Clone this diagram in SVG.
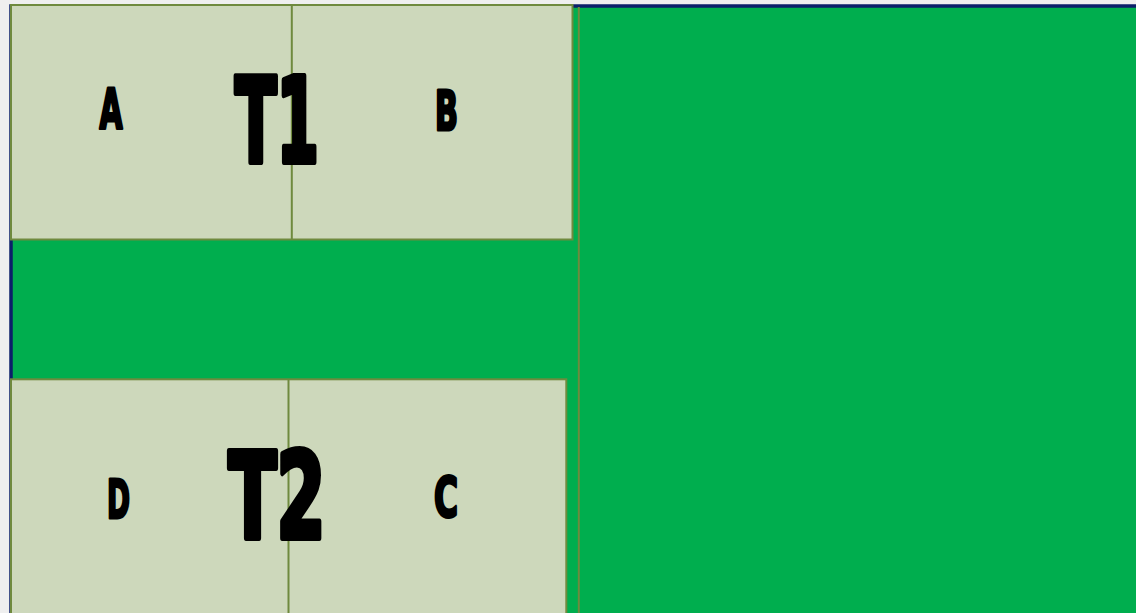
<svg xmlns="http://www.w3.org/2000/svg" width="1136" height="613" viewBox="0 0 1136 613">
<style>
.panel{fill:#cdd8bb;stroke:#6f8a3e;stroke-width:2}
.div{stroke:#6f8a3e;stroke-width:2}
.big{font-family:"Liberation Sans Narrow","DejaVu Sans Condensed","Liberation Sans",sans-serif;font-weight:bold;fill:#000;stroke:#000;stroke-width:6;stroke-linejoin:round;text-anchor:middle}
.small{font-family:"Liberation Sans Narrow","DejaVu Sans Condensed","Liberation Sans",sans-serif;font-weight:bold;fill:#000;stroke:#000;stroke-width:3;stroke-linejoin:round;text-anchor:middle}
</style>
<rect x="0" y="0" width="1136" height="613" fill="#efefef"/>
<g id="field">
<rect x="11" y="6" width="1130" height="620" fill="#00ae4e" stroke="#0b1f6a" stroke-width="3.5"/>
<line x1="578.8" y1="7" x2="578.8" y2="613" class="div"/>
</g>
<g id="T1">
<rect class="panel" x="11" y="5" width="561.5" height="234.5"/>
<line class="div" x1="291.8" y1="5" x2="291.8" y2="239.5"/>
<text class="big" x="277" y="162" font-size="118" textLength="84" lengthAdjust="spacingAndGlyphs">T1</text>
<text class="small" x="111" y="128" font-size="55" textLength="23" lengthAdjust="spacingAndGlyphs">A</text>
<text class="small" x="446.5" y="130" font-size="55" textLength="23" lengthAdjust="spacingAndGlyphs">B</text>
</g>
<g id="T2">
<rect class="panel" x="11" y="379.3" width="555.3" height="250"/>
<line class="div" x1="288.5" y1="379.3" x2="288.5" y2="613"/>
<text class="big" x="277" y="538" font-size="120" textLength="97" lengthAdjust="spacingAndGlyphs">T2</text>
<text class="small" x="118.5" y="517.5" font-size="53" textLength="23" lengthAdjust="spacingAndGlyphs">D</text>
<text class="small" x="446" y="516" font-size="55" textLength="24" lengthAdjust="spacingAndGlyphs">C</text>
</g>
</svg>
